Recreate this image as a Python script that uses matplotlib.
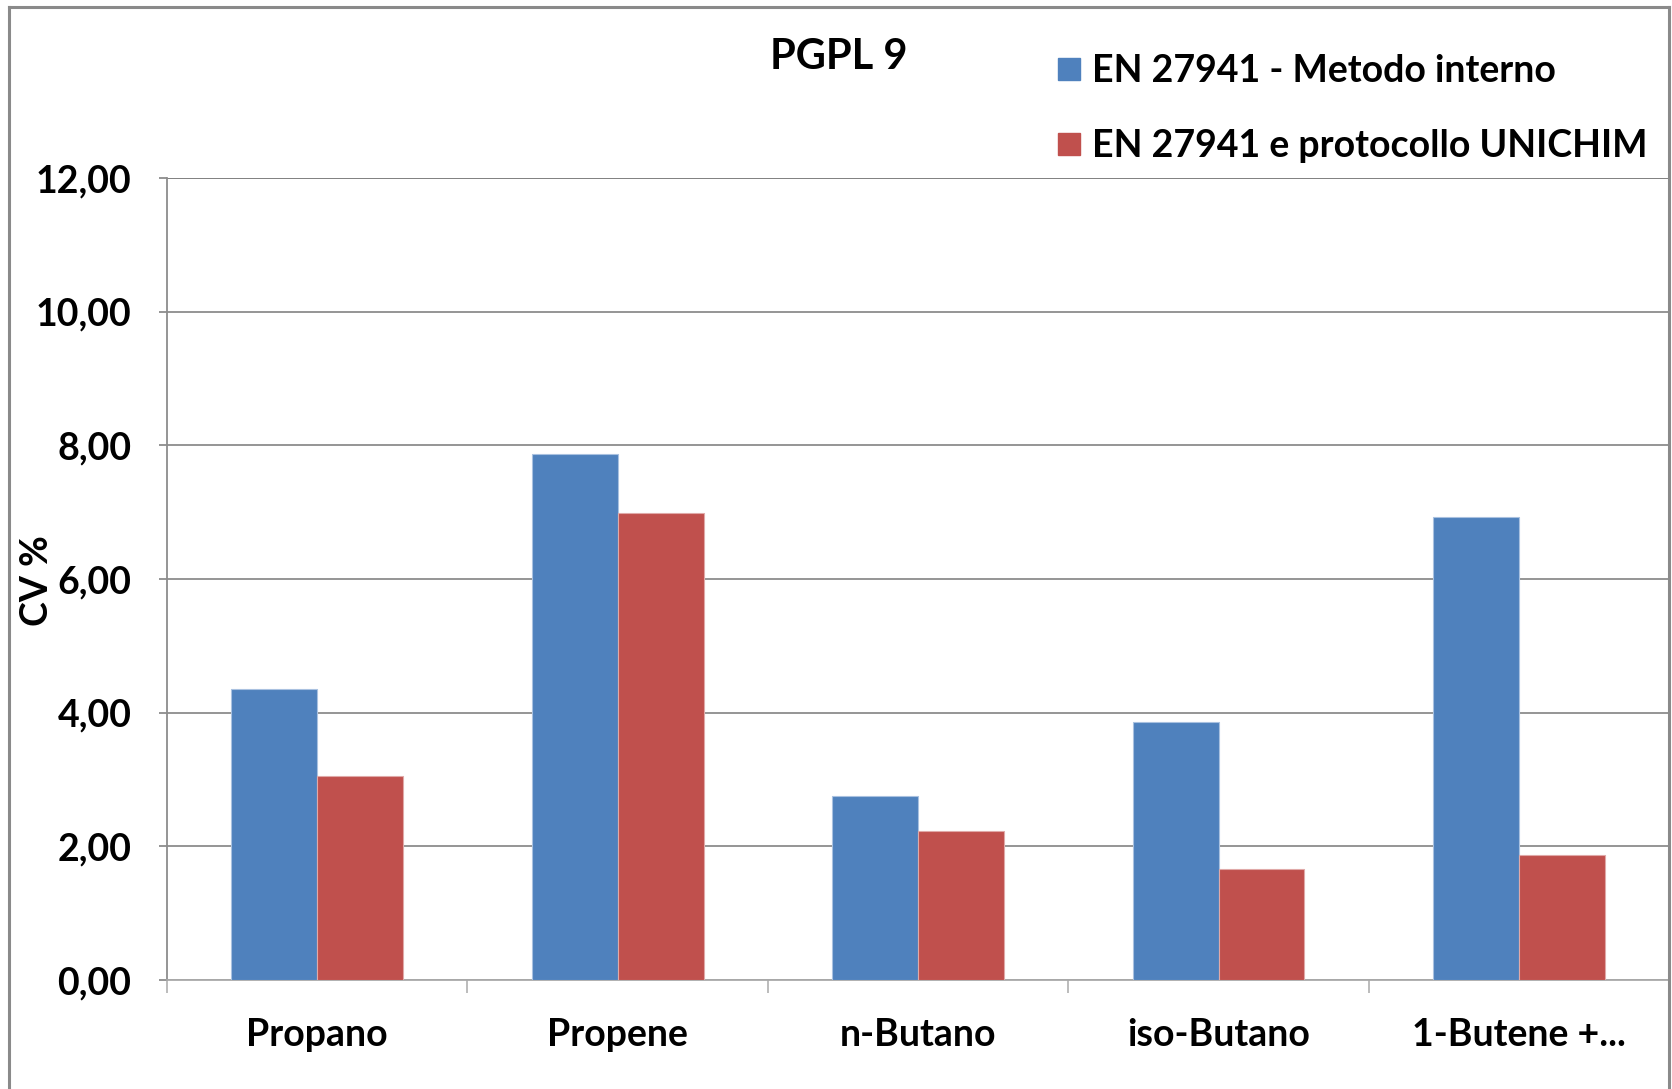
import matplotlib.pyplot as plt
import numpy as np
from matplotlib.lines import Line2D

plt.rcParams['font.family'] = ['Lato', 'DejaVu Sans']
plt.rcParams['font.weight'] = 'bold'

CATEGORIES = ["Propano", "Propene", "n-Butano", "iso-Butano", "1-Butene +..."]
METODO_INTERNO = [4.36, 7.87, 2.76, 3.86, 6.93]
UNICHIM = [3.06, 6.99, 2.23, 1.66, 1.87]
SERIES_NAMES = ["EN 27941 - Metodo interno", "EN 27941 e protocollo UNICHIM"]
Y_TICKS = [0, 2, 4, 6, 8, 10, 12]

BLUE = "#4F81BD"
RED = "#C0504D"
GRID = "#8c8c8c"
FS = 27

fig = plt.figure(figsize=(16.72, 10.89), dpi=100)
ax = fig.add_axes([0.0999, 0.1, 0.8985, 0.7365])

x = np.arange(len(CATEGORIES))
w = 1 / 3.5  # excel gap width 150%
ax.bar(x - w / 2, METODO_INTERNO, w, color=BLUE, edgecolor="#a9c1e0", linewidth=0.8,
       label=SERIES_NAMES[0], zorder=3)
ax.bar(x + w / 2, UNICHIM, w, color=RED, edgecolor="#e0a9a8", linewidth=0.8,
       label=SERIES_NAMES[1], zorder=3)

ax.set_xlim(-0.5, len(CATEGORIES) - 0.5)
ax.set_ylim(0, 12)
ax.set_yticks(Y_TICKS)
ax.set_yticklabels([f"{v:.2f}".replace(".", ",") for v in Y_TICKS])
ax.set_xticks(x)
ax.set_xticklabels(CATEGORIES)
ax.set_xticks(np.arange(len(CATEGORIES) + 1) - 0.5, minor=True)

ax.yaxis.grid(True, color=GRID, linewidth=1.3, zorder=0)
ax.axhline(12, color="#222222", linewidth=1.3, zorder=1)
ax.tick_params(axis="y", length=5.5, width=1.3, color=GRID, pad=20, labelsize=FS)
ax.tick_params(axis="x", which="major", length=0, pad=27, labelsize=FS)
ax.tick_params(axis="x", which="minor", length=9, width=1.1, color="#aaaaaa")
for lab in ax.get_xticklabels() + ax.get_yticklabels():
    lab.set_fontweight("bold")

for s in ["top", "right"]:
    ax.spines[s].set_visible(False)
ax.spines["left"].set_color(GRID)
ax.spines["left"].set_linewidth(1.3)
ax.spines["bottom"].set_color("#aaaaaa")
ax.spines["bottom"].set_linewidth(1.3)

fig.text(839 / 1672, 1 - 57 / 1089, "PGPL 9", ha="center", va="center",
         fontsize=30, fontweight="bold")
fig.text(37 / 1672, 1 - 581 / 1089, "CV %", ha="center", va="center",
         rotation=90, fontsize=FS, fontweight="bold")

handles = [Line2D([], [], marker="s", linestyle="none", markersize=16, color=c)
           for c in (BLUE, RED)]
fig.legend(handles, SERIES_NAMES, loc="upper left",
           bbox_to_anchor=(1039 / 1672, 1 - 35 / 1089), frameon=False,
           prop={"weight": "bold", "size": FS},
           handlelength=0.6, handletextpad=0.3, labelspacing=1.1, borderpad=0)

# outer chart frame
fr = dict(color="#8a8a8a", linewidth=2.2, transform=fig.transFigure)
fig.add_artist(Line2D([0.0051, 0.0051], [0, 0.994], **fr))
fig.add_artist(Line2D([0.0051, 0.9985], [0.994, 0.994], **fr))
fig.add_artist(Line2D([0.9985, 0.9985], [0, 0.994], **fr))

fig.savefig("out.png", dpi=100)
